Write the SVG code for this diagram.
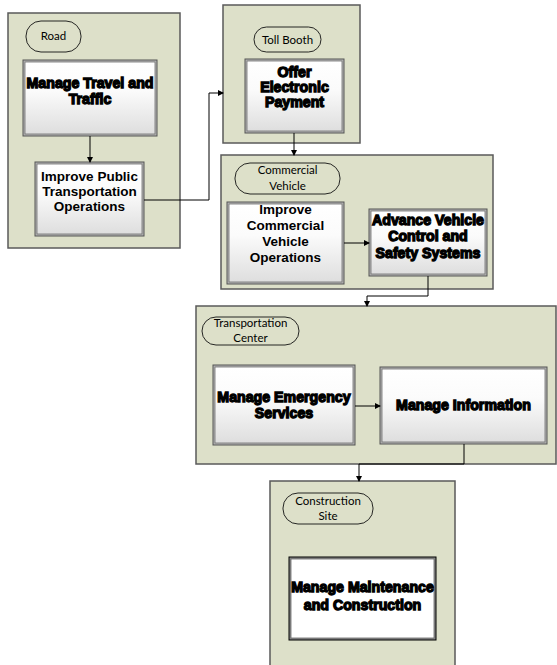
<svg xmlns="http://www.w3.org/2000/svg" width="557" height="665" viewBox="0 0 557 665">
<defs>
<linearGradient id="g" x1="0" y1="0" x2="0" y2="1">
<stop offset="0" stop-color="#ffffff"/>
<stop offset="0.4" stop-color="#fbfbfb"/>
<stop offset="1" stop-color="#dedede"/>
</linearGradient>
<marker id="ah" markerWidth="6" markerHeight="6" refX="5" refY="3" orient="auto" markerUnits="userSpaceOnUse">
<path d="M0,0 L6,3 L0,6 z" fill="#000"/>
</marker>
<style>
.cont{fill:#dde0c9;stroke:#5a5a5a;stroke-width:1.5}
.pill{fill:none;stroke:#111;stroke-width:0.9}
.bo{fill:#b5b5b5;stroke:#555;stroke-width:1}
.bi{fill:url(#g);stroke:#6e6e6e;stroke-width:0.8}
.wo{fill:#888;stroke:#000;stroke-width:1}
.wi{fill:#fff;stroke:#666;stroke-width:0.8}
.lab{font-family:Lato,"Liberation Sans",sans-serif;font-size:11.5px;fill:#000;text-anchor:middle}
.b{font-family:"Liberation Sans",Arial,sans-serif;font-weight:bold;font-size:13.5px;fill:#000;text-anchor:middle}
.h{font-family:"Liberation Sans",Arial,sans-serif;font-weight:bold;font-size:14.2px;fill:#000;stroke:#000;stroke-width:1.3;text-anchor:middle}
.c{fill:none;stroke:#000;stroke-width:1}
</style>
</defs>

<g id="road">
<rect class="cont" x="8" y="13" width="172" height="235"/>
<rect class="pill" x="26" y="21" width="55" height="31" rx="15"/>
<text class="lab" x="53.5" y="40">Road</text>
</g>
<g id="manage-travel">
<rect class="bo" x="23" y="60" width="134" height="76"/>
<rect class="bi" x="25" y="62" width="130" height="72"/>
<text class="h" x="90" y="88">Manage Travel and</text>
<text class="h" x="90" y="104">Traffic</text>
</g>
<g id="improve-public">
<rect class="bo" x="35" y="162" width="109" height="74"/>
<rect class="bi" x="37" y="164" width="105" height="70"/>
<text class="b" x="89.5" y="181">Improve Public</text>
<text class="b" x="89.5" y="196">Transportation</text>
<text class="b" x="89.5" y="211">Operations</text>
</g>

<g id="toll-booth">
<rect class="cont" x="223" y="5" width="137" height="138"/>
<rect class="pill" x="254" y="27" width="67" height="25" rx="12.5"/>
<text class="lab" x="287.5" y="44">Toll Booth</text>
</g>
<g id="offer-payment">
<rect class="bo" x="245" y="59" width="99" height="74"/>
<rect class="bi" x="247" y="61" width="95" height="70"/>
<text class="h" x="294.5" y="77">Offer</text>
<text class="h" x="294.5" y="92">Electronic</text>
<text class="h" x="294.5" y="107">Payment</text>
</g>

<g id="commercial-vehicle">
<rect class="cont" x="221" y="155" width="272" height="134"/>
<rect class="pill" x="235" y="163" width="105" height="31" rx="15"/>
<text class="lab" x="287.5" y="174">Commercial</text>
<text class="lab" x="287.5" y="190">Vehicle</text>
</g>
<g id="improve-commercial">
<rect class="bo" x="227" y="202" width="117" height="82"/>
<rect class="bi" x="229" y="204" width="113" height="78"/>
<text class="b" x="285.5" y="214">Improve</text>
<text class="b" x="285.5" y="230">Commercial</text>
<text class="b" x="285.5" y="246">Vehicle</text>
<text class="b" x="285.5" y="262">Operations</text>
</g>
<g id="advance-vehicle">
<rect class="bo" x="369" y="209" width="118" height="67"/>
<rect class="bi" x="371" y="211" width="114" height="63"/>
<text class="h" x="428" y="225">Advance Vehicle</text>
<text class="h" x="428" y="241">Control and</text>
<text class="h" x="428" y="258">Safety Systems</text>
</g>

<g id="transportation-center">
<rect class="cont" x="196" y="306" width="360" height="158"/>
<rect class="pill" x="202" y="317" width="97" height="28" rx="14"/>
<text class="lab" x="250.5" y="327">Transportation</text>
<text class="lab" x="250.5" y="342">Center</text>
</g>
<g id="manage-emergency">
<rect class="bo" x="213" y="365" width="142" height="80"/>
<rect class="bi" x="215" y="367" width="138" height="76"/>
<text class="h" x="284" y="402">Manage Emergency</text>
<text class="h" x="284" y="418">Services</text>
</g>
<g id="manage-information">
<rect class="bo" x="380" y="367" width="167" height="77"/>
<rect class="bi" x="382" y="369" width="163" height="73"/>
<text class="h" x="463.5" y="410">Manage Information</text>
</g>

<g id="construction-site">
<rect class="cont" x="270" y="481" width="185" height="220"/>
<rect class="pill" x="283" y="493" width="90" height="31" rx="15"/>
<text class="lab" x="328" y="505">Construction</text>
<text class="lab" x="328" y="520">Site</text>
</g>
<g id="manage-maintenance">
<rect class="wo" x="289" y="557" width="147" height="83"/>
<rect class="wi" x="291" y="559" width="143" height="79"/>
<text class="h" x="362.5" y="592">Manage Maintenance</text>
<text class="h" x="362.5" y="610">and Construction</text>
</g>

<g id="connectors">
<path class="c" d="M90,136 V162" marker-end="url(#ah)"/>
<path class="c" d="M144,200 H209 V93 H223" marker-end="url(#ah)"/>
<path class="c" d="M294,133 V155" marker-end="url(#ah)"/>
<path class="c" d="M344,243 H369" marker-end="url(#ah)"/>
<path class="c" d="M428,276 V296 H367 V306" marker-end="url(#ah)"/>
<path class="c" d="M355,406 H380" marker-end="url(#ah)"/>
<path class="c" d="M464,444 V464 H359 V481" marker-end="url(#ah)"/>
</g>
</svg>
